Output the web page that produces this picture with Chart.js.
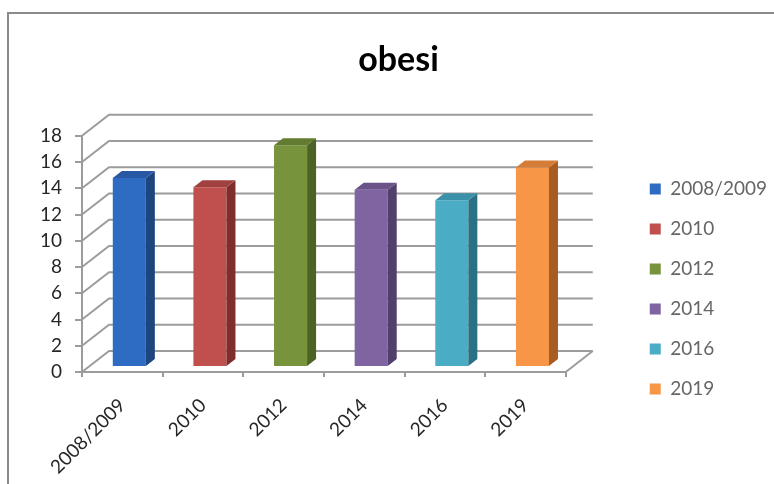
<!DOCTYPE html>
<html>
<head>
<meta charset="utf-8">
<script src="https://cdn.jsdelivr.net/npm/chart.js@4"></script>
<style>
  html, body { margin: 0; padding: 0; background: #fff; }
  #wrap { width: 774px; height: 484px; }
</style>
</head>
<body>
<div id="wrap"><canvas id="chart" width="774" height="484"></canvas></div>
<script>
const years = ['2008/2009', '2010', '2012', '2014', '2016', '2019'];
const obesi = [14.4, 13.7, 16.9, 13.5, 12.7, 15.2];
const yMax = 18;
const yStep = 2;

// face colours per bar: front, right side, top
const frontColors = ['#2e6cc4', '#c0504d', '#77933c', '#8064a2', '#4bacc6', '#f79646'];
const sideColors = ['#1d4680', '#7e2f2d', '#4d6226', '#51406b', '#2b7186', '#a85c22'];
const topColors = ['#2858a3', '#a0413f', '#637b31', '#6a5388', '#3b91a8', '#d57c37'];

// depth of the box (back wall offset) and of each column
const wall = { dx: 27, dy: -21 };
const barShift = { dx: 7, dy: -5 };
const barDepth = { dx: 9, dy: -7 };
const lineColor = '#9c9c9c';
const textColor = '#262626';

const box3d = {
    id: 'box3d',
    beforeDraw(chart) {
        const ctx = chart.ctx;
        ctx.save();
        ctx.strokeStyle = '#8a8a8a';
        ctx.lineWidth = 2;
        ctx.beginPath();
        ctx.moveTo(8, chart.height + 2);
        ctx.lineTo(8, 13);
        ctx.lineTo(chart.width + 2, 13);
        ctx.stroke();
        ctx.restore();
    },
    beforeDatasetsDraw(chart) {
        const ctx = chart.ctx;
        const a = chart.chartArea;
        const y = chart.scales.y;
        ctx.save();
        ctx.strokeStyle = lineColor;
        ctx.lineWidth = 2;
        y.ticks.forEach(t => {
            const py = y.getPixelForValue(t.value);
            ctx.beginPath();
            ctx.moveTo(a.left, py);
            ctx.lineTo(a.left + wall.dx, py + wall.dy);
            ctx.lineTo(a.right + wall.dx, py + wall.dy);
            ctx.stroke();
        });
        // right edge of the floor
        ctx.beginPath();
        ctx.moveTo(a.right, a.bottom);
        ctx.lineTo(a.right + wall.dx, a.bottom + wall.dy);
        ctx.stroke();
        ctx.restore();

        // columns stand a little behind the front edge
        ctx.save();
        ctx.translate(barShift.dx, barShift.dy);
    },
    afterDatasetsDraw(chart) {
        const ctx = chart.ctx;
        const meta = chart.getDatasetMeta(0);
        meta.data.forEach((bar, i) => {
            const p = bar.getProps(['x', 'y', 'base', 'width'], true);
            const l = p.x - p.width / 2;
            const r = p.x + p.width / 2;
            // side face
            ctx.fillStyle = sideColors[i];
            ctx.beginPath();
            ctx.moveTo(r, p.y);
            ctx.lineTo(r + barDepth.dx, p.y + barDepth.dy);
            ctx.lineTo(r + barDepth.dx, p.base + barDepth.dy);
            ctx.lineTo(r, p.base);
            ctx.closePath();
            ctx.fill();
            // top face
            ctx.fillStyle = topColors[i];
            ctx.beginPath();
            ctx.moveTo(l, p.y);
            ctx.lineTo(l + barDepth.dx, p.y + barDepth.dy);
            ctx.lineTo(r + barDepth.dx, p.y + barDepth.dy);
            ctx.lineTo(r, p.y);
            ctx.closePath();
            ctx.fill();
        });
        ctx.restore();
    }
};

new Chart(document.getElementById('chart'), {
    type: 'bar',
    data: {
        labels: years,
        datasets: [{
            label: 'obesi',
            data: obesi,
            backgroundColor: frontColors,
            borderWidth: 0,
            barPercentage: 0.41,
            categoryPercentage: 1,
            clip: false
        }]
    },
    plugins: [box3d],
    options: {
        responsive: false,
        animation: false,
        layout: { padding: { left: 20, right: -3, top: 0, bottom: 0 } },
        plugins: {
            title: {
                display: true,
                text: 'obesi',
                color: '#000',
                font: { family: 'Lato', size: 34, weight: 'bold' },
                padding: { top: 40, bottom: 55 }
            },
            legend: {
                position: 'right',
                align: 'start',
                maxWidth: 170,
                title: {
                    display: true,
                    text: '',
                    font: { size: 12 },
                    padding: { top: 144, bottom: 0 }
                },
                labels: {
                    boxWidth: 11,
                    boxHeight: 11,
                    padding: 21,
                    color: textColor,
                    font: { family: 'Lato', size: 19 },
                    generateLabels(chart) {
                        const ds = chart.data.datasets[0];
                        return chart.data.labels.map((lab, i) => ({
                            text: lab,
                            fillStyle: ds.backgroundColor[i],
                            strokeStyle: ds.backgroundColor[i],
                            lineWidth: 0,
                            index: i
                        }));
                    }
                }
            },
            tooltip: { enabled: false }
        },
        scales: {
            x: {
                grid: {
                    offset: true,
                    drawOnChartArea: false,
                    drawTicks: true,
                    tickLength: 5,
                    color: lineColor,
                    lineWidth: 2
                },
                border: { color: lineColor, width: 2 },
                ticks: {
                    minRotation: 45,
                    maxRotation: 45,
                    padding: 17,
                    color: textColor,
                    font: { family: 'Lato', size: 19 }
                },
                afterFit(scale) { scale.height = 112; }
            },
            y: {
                min: 0,
                max: yMax,
                ticks: {
                    stepSize: yStep,
                    color: textColor,
                    padding: 13,
                    font: { family: 'Lato', size: 19 }
                },
                grid: {
                    drawOnChartArea: false,
                    drawTicks: true,
                    tickLength: 7,
                    color: lineColor,
                    lineWidth: 2
                },
                border: { color: lineColor, width: 2 },
                afterFit(scale) { scale.width = 62; }
            },
            // room on the right for the back wall before the legend
            depth: {
                type: 'linear',
                position: 'right',
                display: true,
                grid: { display: false },
                border: { display: false },
                ticks: { display: false },
                afterFit(scale) { scale.width = 63; }
            }
        }
    }
});
</script>
</body>
</html>
